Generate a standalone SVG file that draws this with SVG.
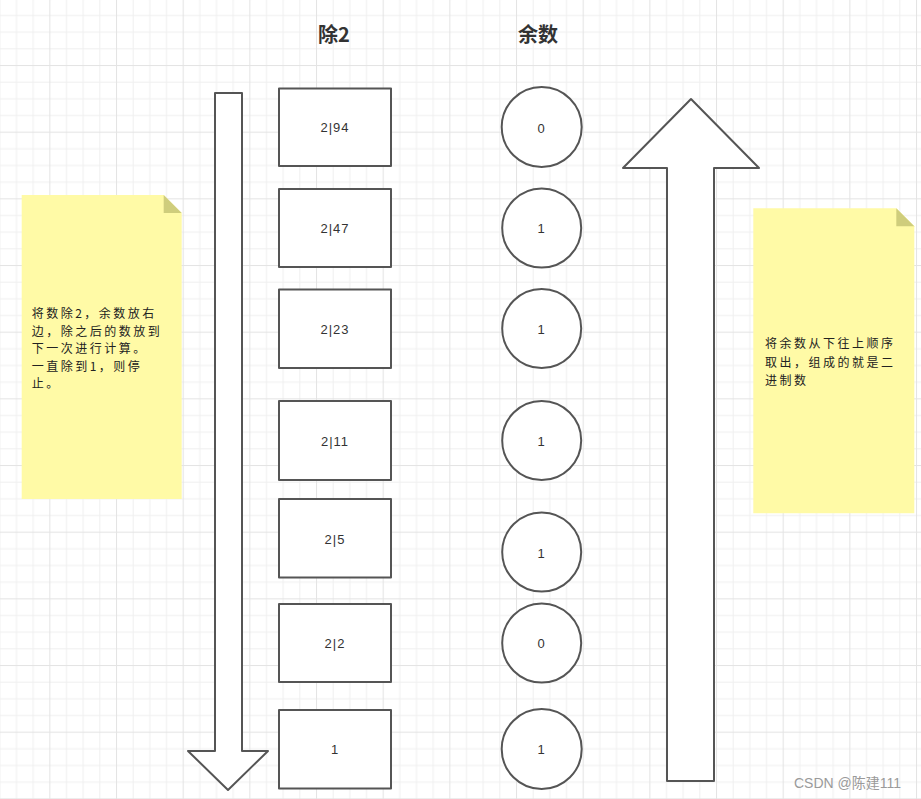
<svg xmlns="http://www.w3.org/2000/svg" width="921" height="799" viewBox="0 0 921 799">
<defs>
<pattern id="grid" patternUnits="userSpaceOnUse" x="49.33" y="-1.67" width="66.667" height="66.667">
<rect x="0" y="0" width="66.667" height="66.667" fill="#ffffff"/>
<g fill="#f0f0f0">
<rect x="16.667" y="0" width="1" height="66.667"/>
<rect x="33.333" y="0" width="1" height="66.667"/>
<rect x="50" y="0" width="1" height="66.667"/>
<rect x="0" y="16.667" width="66.667" height="1"/>
<rect x="0" y="33.333" width="66.667" height="1"/>
<rect x="0" y="50" width="66.667" height="1"/>
</g>
<g fill="#e4e4e4">
<rect x="0" y="0" width="1" height="66.667"/>
<rect x="0" y="0" width="66.667" height="1"/>
</g>
</pattern>
</defs>
<style>
.shape{fill:#ffffff;stroke:#555555;stroke-width:2;stroke-linejoin:round}
.lbl{font-family:"Liberation Sans","DejaVu Sans",sans-serif;font-size:13px;fill:#333333;text-anchor:middle;dominant-baseline:central;letter-spacing:1px}
.title{font-family:"Noto Sans CJK SC","Liberation Sans",sans-serif;font-size:20px;font-weight:bold;fill:#333333}
.note{fill:#fffaa6}
.fold{fill:#cfcd7c}
.ntext{font-family:"Noto Sans CJK SC","Liberation Sans",sans-serif;font-size:12px;fill:#222222;letter-spacing:2.5px}
.wm{font-family:"Liberation Sans","Noto Sans CJK SC",sans-serif;font-size:14px;fill:#9a9a9a}
</style>
<rect x="0" y="0" width="921" height="799" fill="url(#grid)"/>

<g id="title-div">
<text class="title" x="318" y="42">除2</text>
</g>
<g id="title-rem">
<text class="title" x="518" y="42">余数</text>
</g>

<g id="arrow-down">
<path class="shape" d="M215,93 H242 V751 H268 L228,790 L188,751 H215 Z"/>
</g>
<g id="arrow-up">
<path class="shape" d="M691,99 L759,168 H714 V781 H667 V168 H623 Z"/>
</g>

<g id="note-left">
<path class="note" d="M21.7,195 H163.7 L181.7,213 V499 H21.7 Z"/>
<path class="fold" d="M163.7,195 V213 H181.7 Z"/>
<text class="ntext" x="31.7" y="318">将数除2，余数放右</text>
<text class="ntext" x="31.7" y="336">边，除之后的数放到</text>
<text class="ntext" x="31.7" y="353">下一次进行计算。</text>
<text class="ntext" x="31.7" y="371">一直除到1，则停</text>
<text class="ntext" x="31.7" y="388">止。</text>
</g>
<g id="note-right">
<path class="note" d="M753.3,208.3 H896.3 L914.3,226.3 V513.3 H753.3 Z"/>
<path class="fold" d="M896.3,208.3 V226.3 H914.3 Z"/>
<text class="ntext" x="765" y="348">将余数从下往上顺序</text>
<text class="ntext" x="765" y="367">取出，组成的就是二</text>
<text class="ntext" x="765" y="385">进制数</text>
</g>

<g id="r94"><rect class="shape" x="279" y="88.5" width="112" height="77.5"/><text class="lbl" x="335" y="127">2|94</text></g>
<g id="r47"><rect class="shape" x="279" y="189" width="112" height="78"/><text class="lbl" x="335" y="228">2|47</text></g>
<g id="r23"><rect class="shape" x="279" y="289.5" width="112" height="78.5"/><text class="lbl" x="335" y="329">2|23</text></g>
<g id="r11"><rect class="shape" x="279" y="401" width="112" height="79"/><text class="lbl" x="335" y="441">2|11</text></g>
<g id="r5"><rect class="shape" x="279" y="499" width="112" height="78.5"/><text class="lbl" x="335" y="539">2|5</text></g>
<g id="r2"><rect class="shape" x="279" y="604" width="112" height="78"/><text class="lbl" x="335" y="643">2|2</text></g>
<g id="r1"><rect class="shape" x="279" y="710" width="112" height="78.5"/><text class="lbl" x="335" y="749">1</text></g>

<g id="c1"><circle class="shape" cx="541.7" cy="127" r="40"/><text class="lbl" x="541.7" y="128">0</text></g>
<g id="c2"><circle class="shape" cx="541.7" cy="228" r="39.5"/><text class="lbl" x="541.7" y="228">1</text></g>
<g id="c3"><circle class="shape" cx="541.7" cy="328.5" r="39.5"/><text class="lbl" x="541.7" y="329">1</text></g>
<g id="c4"><circle class="shape" cx="541.7" cy="440.5" r="39.5"/><text class="lbl" x="541.7" y="441">1</text></g>
<g id="c5"><circle class="shape" cx="541.7" cy="552" r="39.5"/><text class="lbl" x="541.7" y="553">1</text></g>
<g id="c6"><circle class="shape" cx="541.7" cy="643" r="39.5"/><text class="lbl" x="541.7" y="643">0</text></g>
<g id="c7"><circle class="shape" cx="541.7" cy="749" r="40"/><text class="lbl" x="541.7" y="749">1</text></g>

<g id="connectors"></g>

<text class="wm" x="794" y="788">CSDN @陈建111</text>
</svg>
